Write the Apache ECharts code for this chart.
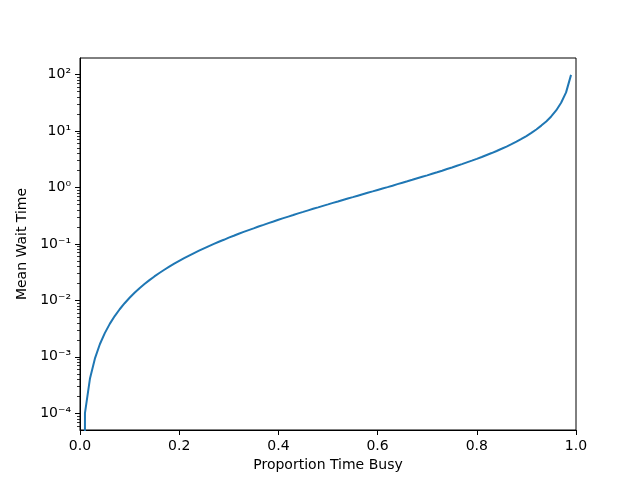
<!DOCTYPE html>
<html>
<head>
<meta charset="utf-8">
<script src="https://cdn.jsdelivr.net/npm/echarts@6/dist/echarts.min.js"></script>
<style>
  html, body { margin: 0; padding: 0; background: #fff; }
  #chart { width: 640px; height: 480px; }
</style>
</head>
<body>
<div id="chart"></div>
<script>
// proportion of time the server is busy
var busy = [
  0.00, 0.01, 0.02, 0.03, 0.04, 0.05, 0.06, 0.07, 0.08, 0.09,
  0.10, 0.11, 0.12, 0.13, 0.14, 0.15, 0.16, 0.17, 0.18, 0.19,
  0.20, 0.21, 0.22, 0.23, 0.24, 0.25, 0.26, 0.27, 0.28, 0.29,
  0.30, 0.31, 0.32, 0.33, 0.34, 0.35, 0.36, 0.37, 0.38, 0.39,
  0.40, 0.41, 0.42, 0.43, 0.44, 0.45, 0.46, 0.47, 0.48, 0.49,
  0.50, 0.51, 0.52, 0.53, 0.54, 0.55, 0.56, 0.57, 0.58, 0.59,
  0.60, 0.61, 0.62, 0.63, 0.64, 0.65, 0.66, 0.67, 0.68, 0.69,
  0.70, 0.71, 0.72, 0.73, 0.74, 0.75, 0.76, 0.77, 0.78, 0.79,
  0.80, 0.81, 0.82, 0.83, 0.84, 0.85, 0.86, 0.87, 0.88, 0.89,
  0.90, 0.91, 0.92, 0.93, 0.94, 0.95, 0.96, 0.97, 0.98, 0.99
]
// mean wait time
var waitTime = [
  0, 0.000101, 0.000408, 0.000928, 0.00167, 0.00263, 0.00383, 0.00527, 0.00696, 0.0089,
  0.0111, 0.0136, 0.0164, 0.0194, 0.0228, 0.0265, 0.0305, 0.0348, 0.0395, 0.0446,
  0.050, 0.0558, 0.0621, 0.0687, 0.0758, 0.0833, 0.0914, 0.0999, 0.109, 0.118,
  0.129, 0.139, 0.151, 0.163, 0.175, 0.188, 0.203, 0.217, 0.233, 0.249,
  0.267, 0.285, 0.304, 0.324, 0.346, 0.368, 0.392, 0.417, 0.443, 0.471,
  0.500, 0.531, 0.563, 0.598, 0.634, 0.672, 0.713, 0.756, 0.801, 0.849,
  0.900, 0.954, 1.01, 1.07, 1.14, 1.21, 1.28, 1.36, 1.45, 1.54,
  1.63, 1.74, 1.85, 1.97, 2.11, 2.25, 2.41, 2.58, 2.77, 2.97,
  3.20, 3.45, 3.74, 4.05, 4.41, 4.82, 5.28, 5.82, 6.45, 7.20,
  8.10, 9.20, 10.6, 12.4, 14.7, 18.0, 23.0, 31.4, 48.0, 98.0
]
var xTicks = [0, 0.2, 0.4, 0.6, 0.8, 1.0]
var yTicks = [1e-4, 1e-3, 1e-2, 1e-1, 1e0, 1e1, 1e2]

var yMin = 5.07e-5
var yMax = 195

// minor log ticks 2..9 x 10^n inside the range
var yMinor = []
for (let e = -5; e <= 2; e++) {
  for (let k = 2; k <= 9; k++) {
    let v = k * Math.pow(10, e)
    if (v > yMin && v < yMax) yMinor.push(v)
  }
}

var seriesData = []
for (let i = 0; i < busy.length; i++) {
  // zero can't sit on a log axis, push it far below like matplotlib clips it
  let y = waitTime[i] > 0 ? waitTime[i] : 1e-300
  seriesData.push([busy[i], y])
}

var font = 'DejaVu Sans'
var sup = { '-': '\u207B', '0': '\u2070', '1': '\u00B9', '2': '\u00B2', '3': '\u00B3', '4': '\u2074' }

function logLabel(v) {
  let e = Math.round(Math.log10(v))
  let s = String(e).split('').map(c => sup[c]).join('')
  return '10' + s
}

var chart = echarts.init(document.getElementById('chart'), null, { renderer: 'canvas' })
chart.setOption({
  animation: false,
  backgroundColor: '#fff',
  textStyle: { fontFamily: font },
  grid: {
    left: 80, top: 58, width: 496, height: 372,
    show: true, borderColor: '#000', borderWidth: 1, backgroundColor: 'transparent'
  },
  xAxis: {
    type: 'value',
    min: 0, max: 1, interval: 0.2,
    name: 'Proportion Time Busy',
    nameLocation: 'middle',
    nameGap: 25,
    nameTextStyle: { fontFamily: font, fontSize: 14, color: '#000' },
    axisLine: { lineStyle: { color: '#000', width: 1 } },
    axisTick: { inside: false, length: 5, lineStyle: { color: '#000' }, customValues: xTicks },
    axisLabel: {
      fontFamily: font, fontSize: 14, color: '#000', margin: 9,
      customValues: xTicks,
      formatter: v => v.toFixed(1)
    },
    splitLine: { show: false }
  },
  yAxis: [
    {
      type: 'log',
      logBase: 10,
      min: yMin, max: yMax,
      name: 'Mean Wait Time',
      nameLocation: 'middle',
      nameGap: 51,
      nameTextStyle: { fontFamily: font, fontSize: 14, color: '#000' },
      axisLine: { show: true, lineStyle: { color: '#000', width: 1 } },
      axisTick: { inside: false, length: 5, lineStyle: { color: '#000' }, customValues: yTicks },
      axisLabel: {
        fontFamily: font, fontSize: 14, color: '#000', margin: 9,
        customValues: yTicks,
        formatter: logLabel
      },
      splitLine: { show: false }
    },
    {
      type: 'log',
      logBase: 10,
      min: yMin, max: yMax,
      position: 'left',
      axisLine: { show: false },
      axisTick: { inside: false, length: 3, lineStyle: { color: '#000', width: 0.8 }, customValues: yMinor },
      axisLabel: { show: false },
      splitLine: { show: false }
    }
  ],
  series: [
    {
      type: 'line',
      yAxisIndex: 0,
      data: seriesData,
      showSymbol: false,
      clip: true,
      lineStyle: { color: '#1f77b4', width: 2 },
      itemStyle: { color: '#1f77b4' }
    }
  ]
})
</script>
</body>
</html>
